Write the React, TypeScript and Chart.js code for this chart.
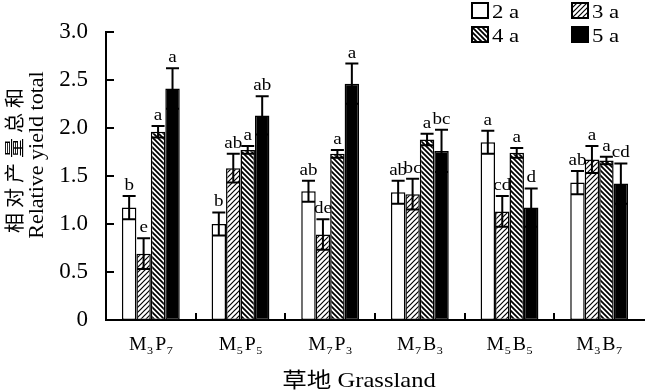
import React, { useEffect, useRef } from 'react';
import { Chart, registerables } from 'chart.js';

Chart.register(...registerables);

const categories = ['M3P7', 'M5P5', 'M7P3', 'M7B3', 'M5B5', 'M3B7'];
const seriesNames = ['2 a', '3 a', '4 a', '5 a'];

const yield2a = [1.17, 1.0, 1.34, 1.33, 1.85, 1.43];
const yield3a = [0.69, 1.58, 0.89, 1.31, 1.13, 1.67];
const yield4a = [1.96, 1.77, 1.73, 1.88, 1.74, 1.66];
const yield5a = [2.41, 2.13, 2.46, 1.76, 1.17, 1.42];

const err2a = [0.12, 0.12, 0.11, 0.12, 0.12, 0.12];
const err3a = [0.16, 0.15, 0.16, 0.16, 0.16, 0.14];
const err4a = [0.06, 0.04, 0.04, 0.06, 0.05, 0.04];
const err5a = [0.21, 0.2, 0.21, 0.22, 0.2, 0.21];

const sig2a = ['b', 'b', 'ab', 'ab', 'a', 'ab'];
const sig3a = ['e', 'ab', 'de', 'bc', 'cd', 'a'];
const sig4a = ['a', 'a', 'a', 'a', 'a', 'a'];
const sig5a = ['a', 'ab', 'a', 'bc', 'd', 'cd'];

const yMin = 0;
const yMax = 3;
const yStep = 0.5;

const yAxisTitle = ['相对产量总和', 'Relative yield total'];
const xAxisTitle = '草地 Grassland';

const FONT = "'Liberation Serif', 'Noto Sans CJK SC', serif";

function makePattern(dir: string, lw: number) {
  const s = 5;
  const c = document.createElement('canvas');
  c.width = s;
  c.height = s;
  const g = c.getContext('2d')!;
  g.fillStyle = '#fff';
  g.fillRect(0, 0, s, s);
  g.strokeStyle = '#000';
  g.lineWidth = lw;
  g.beginPath();
  for (const o of [-s, 0, s]) {
    if (dir === '/') {
      g.moveTo(o - 1, s + 1);
      g.lineTo(o + s + 1, -1);
    } else {
      g.moveTo(o - 1, -1);
      g.lineTo(o + s + 1, s + 1);
    }
  }
  g.stroke();
  return g.createPattern(c, 'repeat')!;
}

function stretchedText(ctx: CanvasRenderingContext2D, text: string, x: number, y: number, sx: number, align: CanvasTextAlign) {
  ctx.save();
  ctx.translate(x, y);
  ctx.scale(sx, 1);
  ctx.textAlign = align;
  ctx.fillText(text, 0, 0);
  ctx.restore();
}

const errors = [err2a, err3a, err4a, err5a];
const sigs = [sig2a, sig3a, sig4a, sig5a];

const decorPlugin = {
  id: 'decor',
  afterDatasetsDraw(chart: any) {
    const ctx: CanvasRenderingContext2D = chart.ctx;
    const y = chart.scales.y;
    const x = chart.scales.x;
    const area = chart.chartArea;
    ctx.save();
    ctx.strokeStyle = '#000';
    ctx.fillStyle = '#000';
    ctx.lineWidth = 2;
    chart.data.datasets.forEach((ds: any, i: number) => {
      const meta = chart.getDatasetMeta(i);
      meta.data.forEach((el: any, j: number) => {
        const v = ds.data[j];
        const e = errors[i][j];
        const top = y.getPixelForValue(v + e);
        const bot = y.getPixelForValue(v - e);
        const half = el.width * 0.45;
        ctx.beginPath();
        ctx.moveTo(el.x, bot);
        ctx.lineTo(el.x, top);
        ctx.moveTo(el.x - half, top);
        ctx.lineTo(el.x + half, top);
        ctx.moveTo(el.x - half, bot);
        ctx.lineTo(el.x + half, bot);
        ctx.stroke();
        ctx.font = `17px ${FONT}`;
        ctx.textBaseline = 'alphabetic';
        stretchedText(ctx, sigs[i][j], el.x, top - 6, 1.12, 'center');
      });
    });
    for (let v = yMin; v <= yMax + 1e-9; v += yStep) {
      const py = Math.round(y.getPixelForValue(v));
      ctx.beginPath();
      ctx.moveTo(area.left, py);
      ctx.lineTo(area.left + 8, py);
      ctx.stroke();
    }
    const n = categories.length;
    for (let k = 1; k < n; k++) {
      const px = Math.round((x.getPixelForValue(k - 1) + x.getPixelForValue(k)) / 2);
      ctx.beginPath();
      ctx.moveTo(px, area.bottom);
      ctx.lineTo(px, area.bottom - 7);
      ctx.stroke();
    }
    ctx.restore();
  },
  afterDraw(chart: any) {
    const ctx: CanvasRenderingContext2D = chart.ctx;
    const x = chart.scales.x;
    ctx.save();
    ctx.fillStyle = '#000';
    ctx.textBaseline = 'alphabetic';
    categories.forEach((lab, k) => {
      const cx = x.getPixelForValue(k);
      const parts: { t: string; sub: boolean }[] = lab.split('').map((c) => ({ t: c, sub: /\d/.test(c) }));
      const sx = 1.1;
      const gapAfter = (p: { sub: boolean }, idx: number) => (p.sub ? (idx < parts.length - 1 ? 2 : 0) : 0.5);
      let w = 0;
      parts.forEach((p, idx) => {
        ctx.font = p.sub ? `11px ${FONT}` : `18px ${FONT}`;
        w += ctx.measureText(p.t).width * sx + gapAfter(p, idx);
      });
      let px = cx - w / 2;
      parts.forEach((p, idx) => {
        ctx.font = p.sub ? `11px ${FONT}` : `18px ${FONT}`;
        stretchedText(ctx, p.t, px, p.sub ? 354 : 350, sx, 'left');
        px += ctx.measureText(p.t).width * sx + gapAfter(p, idx);
      });
    });
    ctx.font = `21px ${FONT}`;
    stretchedText(ctx, xAxisTitle, 359, 387, 1.17, 'center');
    ctx.save();
    ctx.translate(17, 158);
    ctx.rotate(-Math.PI / 2);
    ctx.font = `20px ${FONT}`;
    (ctx as any).letterSpacing = '5px';
    ctx.textAlign = 'center';
    ctx.textBaseline = 'middle';
    ctx.fillText(yAxisTitle[0], 0, 0);
    ctx.restore();
    ctx.save();
    ctx.translate(43, 155);
    ctx.rotate(-Math.PI / 2);
    ctx.font = `22px ${FONT}`;
    ctx.textAlign = 'center';
    ctx.textBaseline = 'alphabetic';
    ctx.fillText(yAxisTitle[1], 0, 0);
    ctx.restore();
    const boxXs = [472, 572];
    const boxYs = [3, 27];
    chart.data.datasets.forEach((ds: any, i: number) => {
      const bx = boxXs[i % 2];
      const by = boxYs[Math.floor(i / 2)];
      ctx.fillStyle = ds.backgroundColor;
      ctx.fillRect(bx, by, 16, 15);
      ctx.strokeStyle = '#000';
      ctx.lineWidth = 2;
      ctx.strokeRect(bx, by, 16, 15);
      ctx.fillStyle = '#000';
      ctx.font = `19px ${FONT}`;
      stretchedText(ctx, ds.label, bx + 20, by + 14.5, 1.2, 'left');
    });
    ctx.restore();
  },
};

export default function App() {
  const ref = useRef<HTMLCanvasElement>(null);
  useEffect(() => {
    const canvas = ref.current!;
    const p3 = makePattern('/', 1.2);
    const p4 = makePattern('\\', 1.8);
    const fills = ['#ffffff', p3, p4, '#000000'];
    const values = [yield2a, yield3a, yield4a, yield5a];
    const chart = new Chart(canvas, {
      type: 'bar',
      data: {
        labels: categories,
        datasets: seriesNames.map((name, i) => ({
          label: name,
          data: values[i],
          backgroundColor: fills[i] as any,
          borderColor: '#000',
          borderWidth: 1.5,
          borderSkipped: false,
          categoryPercentage: 0.645,
          barPercentage: 1,
        })),
      },
      options: {
        responsive: false,
        animation: false,
        devicePixelRatio: 1,
        layout: { padding: { top: 13, right: 1, bottom: 0, left: 0 } },
        plugins: {
          legend: { display: false },
          tooltip: { enabled: false },
          title: { display: false },
        },
        scales: {
          x: {
            grid: { display: false },
            border: { display: true, color: '#000', width: 2 },
            ticks: { display: false },
            afterFit(scale: any) {
              scale.height = 71;
            },
          },
          y: {
            min: yMin,
            max: yMax,
            grid: { display: false, drawTicks: false },
            border: { display: true, color: '#000', width: 2 },
            ticks: {
              stepSize: yStep,
              padding: 18,
              color: '#000',
              font: { family: FONT, size: 23 },
              callback: (v: any) => (Number(v) === 0 ? '0' : Number(v).toFixed(1)),
            },
            afterFit(scale: any) {
              scale.width = 106;
            },
          },
        },
      },
      plugins: [decorPlugin],
    });
    return () => chart.destroy();
  }, []);
  return (
    <div style={{ position: 'absolute', left: 0, top: 0, width: 645, height: 391, background: '#fff' }}>
      <canvas ref={ref} width={645} height={391} style={{ display: 'block', width: 645, height: 391 }} />
    </div>
  );
}
